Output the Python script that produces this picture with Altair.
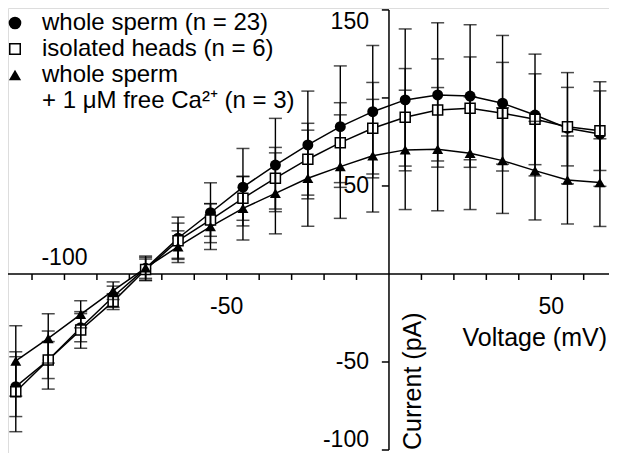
import altair as alt
import pandas as pd

# ---- data ----
voltage = [-115, -105, -95, -85, -75, -65, -55, -45, -35, -25, -15, -5, 5, 15, 25, 35, 45, 55, 65]

ws_mean = [-64.0, -48.9, -30.5, -12.9, 3.2, 20.3, 34.8, 49.3, 61.9, 73.3, 83.7, 92.2, 98.9, 101.7, 101.1, 97.0, 90.3, 82.8, 79.5]
ws_err = [17.0, 10.5, 8.0, 6.0, 7.0, 12.0, 17.0, 22.0, 26.5, 30.6, 34.5, 37.6, 40.3, 41.0, 40.5, 38.5, 34.6, 31.6, 29.7]

ih_mean = [-66.9, -48.9, -31.8, -15.7, 2.5, 18.9, 30.7, 43.0, 54.4, 65.2, 74.6, 82.8, 89.0, 93.2, 94.1, 91.3, 87.9, 83.7, 81.4]
ih_err = [22.7, 16.5, 10.4, 4.5, 6.0, 10.0, 9.3, 12.5, 17.5, 20.4, 22.7, 26.0, 27.7, 29.0, 29.2, 28.9, 25.8, 22.3, 22.6]

ca_mean = [-49.4, -36.6, -22.9, -9.5, 3.5, 15.5, 26.9, 37.3, 45.8, 54.4, 61.0, 67.2, 70.5, 70.9, 68.6, 64.4, 58.7, 53.4, 51.9]
ca_err = [20.0, 14.0, 7.7, 5.0, 6.0, 9.0, 13.0, 18.0, 23.0, 27.3, 29.4, 32.0, 33.9, 35.0, 32.0, 30.0, 28.0, 25.0, 24.9]

series_labels = ["whole sperm (n = 23)", "isolated heads (n = 6)", "whole sperm", "+ 1 \u03bcM free Ca\u00b2\u207a (n = 3)"]

x_ticks = [-110, -100, -90, -80, -70, -60, -50, -40, -30, -20, -10, 10, 20, 30, 40, 50, 60]
y_ticks = [150, 100, 50, -50, -100]
x_tick_labels = [-100, -50, 50]
y_tick_labels = [150, 50, -50, -100]

# ---- layout ----
W, H = 601, 445
XDOM = [-117.4, 67.8]
YDOM = [-101.7, 151.1]
FONT = "Liberation Sans"
FS = 23
FS_LEG = 24
FS_TITLE = 25

xs = alt.Scale(domain=XDOM, nice=False, zero=False)
ys = alt.Scale(domain=YDOM, nice=False, zero=False)


def frame(mean, err):
    return pd.DataFrame({
        "v": voltage,
        "m": mean,
        "lo": [a - b for a, b in zip(mean, err)],
        "hi": [a + b for a, b in zip(mean, err)],
    })


def series_layers(df, shape, filled):
    base = alt.Chart(df)
    X = alt.X("v:Q", scale=xs, axis=None)
    line = base.mark_line(color="black", strokeWidth=1.5).encode(x=X, y=alt.Y("m:Q", scale=ys, axis=None))
    if filled:
        pts = base.mark_point(shape=shape, filled=True, color="black", size=120, opacity=1)
    else:
        pts = base.mark_point(shape=shape, filled=True, fill="white", stroke="black", strokeWidth=1.5, size=100, opacity=1)
    pts = pts.encode(x=X, y=alt.Y("m:Q", scale=ys, axis=None))
    bar = base.mark_rule(color="black", strokeWidth=1.4).encode(
        x=X, y=alt.Y("lo:Q", scale=ys, axis=None), y2="hi:Q")
    cap_lo = base.mark_tick(color="black", orient="horizontal", size=13, thickness=1.5).encode(
        x=X, y=alt.Y("lo:Q", scale=ys, axis=None))
    cap_hi = base.mark_tick(color="black", orient="horizontal", size=13, thickness=1.5).encode(
        x=X, y=alt.Y("hi:Q", scale=ys, axis=None))
    return line, pts, bar, cap_lo, cap_hi


ws = series_layers(frame(ws_mean, ws_err), "circle", True)
ih = series_layers(frame(ih_mean, ih_err), "square", False)
ca = series_layers(frame(ca_mean, ca_err), "triangle-up", True)

lines = [ws[0], ih[0], ca[0]]
points = [ws[1], ih[1], ca[1]]
bars = [ws[2], ws[3], ws[4], ih[2], ih[3], ih[4], ca[2], ca[3], ca[4]]

# ---- axes drawn at the origin ----
x_axis = alt.Chart(pd.DataFrame({"a": [XDOM[0]], "b": [XDOM[1]], "y": [0]})).mark_rule(
    color="black", strokeWidth=1.5).encode(
    x=alt.X("a:Q", scale=xs, axis=None), x2="b:Q", y=alt.Y("y:Q", scale=ys, axis=None))
y_axis = alt.Chart(pd.DataFrame({"x": [0], "a": [-100], "b": [150]})).mark_rule(
    color="black", strokeWidth=1.5).encode(
    x=alt.X("x:Q", scale=xs, axis=None), y=alt.Y("a:Q", scale=ys, axis=None), y2="b:Q")

xt = pd.DataFrame({"v": x_ticks})
xt["y0"] = 0
xt["y1"] = -3.4
x_tick_marks = alt.Chart(xt).mark_rule(color="black", strokeWidth=1.5).encode(
    x=alt.X("v:Q", scale=xs, axis=None), y=alt.Y("y0:Q", scale=ys, axis=None), y2="y1:Q")

yt = pd.DataFrame({"c": y_ticks})
yt["x0"] = 0
yt["x1"] = -2.2
y_tick_marks = alt.Chart(yt).mark_rule(color="black", strokeWidth=1.5).encode(
    x=alt.X("x0:Q", scale=xs, axis=None), x2="x1:Q", y=alt.Y("c:Q", scale=ys, axis=None))

xl = pd.DataFrame({"v": x_tick_labels, "t": [str(v) for v in x_tick_labels], "y": [0, 0, 0]})
x_lab_above = alt.Chart(xl[xl.v == -100]).mark_text(
    font=FONT, fontSize=FS, color="black", baseline="middle", align="center", dy=-16).encode(
    x=alt.X("v:Q", scale=xs, axis=None), y=alt.Y("y:Q", scale=ys, axis=None), text="t:N")
x_lab_below = alt.Chart(xl[xl.v != -100]).mark_text(
    font=FONT, fontSize=FS, color="black", baseline="middle", align="center", dy=33).encode(
    x=alt.X("v:Q", scale=xs, axis=None), y=alt.Y("y:Q", scale=ys, axis=None), text="t:N")

yl = pd.DataFrame({"c": y_tick_labels, "t": [str(v) for v in y_tick_labels], "x": 0})
y_lab_mid = alt.Chart(yl[(yl.c != 150) & (yl.c != -100)]).mark_text(
    font=FONT, fontSize=FS, color="black", baseline="middle", align="right", dx=-20).encode(
    x=alt.X("x:Q", scale=xs, axis=None), y=alt.Y("c:Q", scale=ys, axis=None), text="t:N")
y_lab_top = alt.Chart(yl[yl.c == 150]).mark_text(
    font=FONT, fontSize=FS, color="black", baseline="middle", align="right", dx=-20, dy=12).encode(
    x=alt.X("x:Q", scale=xs, axis=None), y=alt.Y("c:Q", scale=ys, axis=None), text="t:N")
y_lab_bot = alt.Chart(yl[yl.c == -100]).mark_text(
    font=FONT, fontSize=FS, color="black", baseline="middle", align="right", dx=-20, dy=-10).encode(
    x=alt.X("x:Q", scale=xs, axis=None), y=alt.Y("c:Q", scale=ys, axis=None), text="t:N")

x_title = alt.Chart(pd.DataFrame({"t": ["Voltage (mV)"]})).mark_text(
    font=FONT, fontSize=FS_TITLE, color="black", align="right", baseline="middle").encode(
    x=alt.value(599), y=alt.value(330), text="t:N")
y_title = alt.Chart(pd.DataFrame({"t": ["Current (pA)"]})).mark_text(
    font=FONT, fontSize=FS_TITLE, color="black", align="left", baseline="middle", angle=270).encode(
    x=alt.value(405), y=alt.value(442), text="t:N")

# ---- legend ----
leg_y = [15, 41, 67, 93]
leg_text = []
for lab, yy in zip(series_labels, leg_y):
    leg_text.append(alt.Chart(pd.DataFrame({"t": [lab]})).mark_text(
        font=FONT, fontSize=FS_LEG, color="black", align="left", baseline="middle").encode(
        x=alt.value(34), y=alt.value(yy), text="t:N"))
leg_marks = [
    alt.Chart(pd.DataFrame({"t": [series_labels[0]]})).mark_point(
        shape="circle", filled=True, color="black", size=160, opacity=1).encode(
        x=alt.value(7), y=alt.value(leg_y[0])),
    alt.Chart(pd.DataFrame({"t": [series_labels[1]]})).mark_point(
        shape="square", filled=True, fill="white", stroke="black", strokeWidth=1.5, size=110, opacity=1).encode(
        x=alt.value(7), y=alt.value(leg_y[1])),
    alt.Chart(pd.DataFrame({"t": [series_labels[2]]})).mark_point(
        shape="triangle-up", filled=True, color="black", size=150, opacity=1).encode(
        x=alt.value(7), y=alt.value(leg_y[2])),
]

chart = alt.layer(
    x_axis, y_axis, x_tick_marks, y_tick_marks,
    *lines, *points, *bars,
    x_lab_above, x_lab_below, y_lab_mid, y_lab_top, y_lab_bot,
    x_title, y_title, *leg_text, *leg_marks,
).properties(
    width=W, height=H, padding=0,
    autosize=alt.AutoSizeParams(type="none"),
).configure_view(stroke=None).configure(background="white")

chart.save("out.html", embed_options={"renderer": "svg", "actions": False})
